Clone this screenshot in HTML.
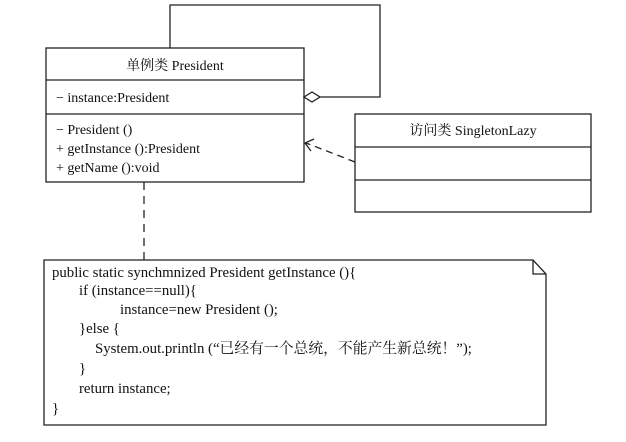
<!DOCTYPE html>
<html><head><meta charset="utf-8"><style>
html,body{margin:0;padding:0;background:#fff;}
svg text{font-family:"Liberation Serif","Noto Serif CJK SC","Noto Sans CJK SC",serif;font-size:14px;fill:#111;}
svg .n{font-size:14.8px;}
</style></head><body>
<svg width="626" height="437" viewBox="0 0 626 437" xmlns="http://www.w3.org/2000/svg">
<g stroke="#222" stroke-width="1.3" fill="none">
<rect x="46" y="48" width="258" height="134"/>
<line x1="46" y1="80" x2="304" y2="80"/>
<line x1="46" y1="114" x2="304" y2="114"/>
<polyline points="170,48 170,5 380,5 380,97 320,97"/>
<polygon points="304,97 312,92 320,97 312,102" fill="#fff"/>
<rect x="355" y="114" width="236" height="98"/>
<line x1="355" y1="147" x2="591" y2="147"/>
<line x1="355" y1="180" x2="591" y2="180"/>
<line x1="355" y1="162" x2="306" y2="143" stroke-dasharray="7,5"/>
<polyline points="314,139 305,143 311,151"/>
<line x1="144" y1="182" x2="144" y2="260" stroke-dasharray="8,6"/>
<polygon points="44,260 533,260 546,274 546,425 44,425"/>
<polyline points="533,260 533,274 546,274"/>
</g>
<text x="175" y="70" text-anchor="middle">单例类 President</text>
<text x="56" y="102">− instance:President</text>
<text x="56" y="134">− President ()</text>
<text x="56" y="153">+ getInstance ():President</text>
<text x="56" y="172">+ getName ():void</text>
<text x="473" y="135" text-anchor="middle">访问类 SingletonLazy</text>
<text class="n" x="52" y="277">public static synchmnized President getInstance (){</text>
<text class="n" x="79" y="295">if (instance==null){</text>
<text class="n" x="120" y="314">instance=new President ();</text>
<text class="n" x="79" y="333">}else {</text>
<text class="n" x="95" y="353">System.out.println (“已经有一个总统，不能产生新总统！”);</text>
<text class="n" x="79" y="373">}</text>
<text class="n" x="79" y="393">return instance;</text>
<text class="n" x="52" y="413">}</text>
</svg>
</body></html>
